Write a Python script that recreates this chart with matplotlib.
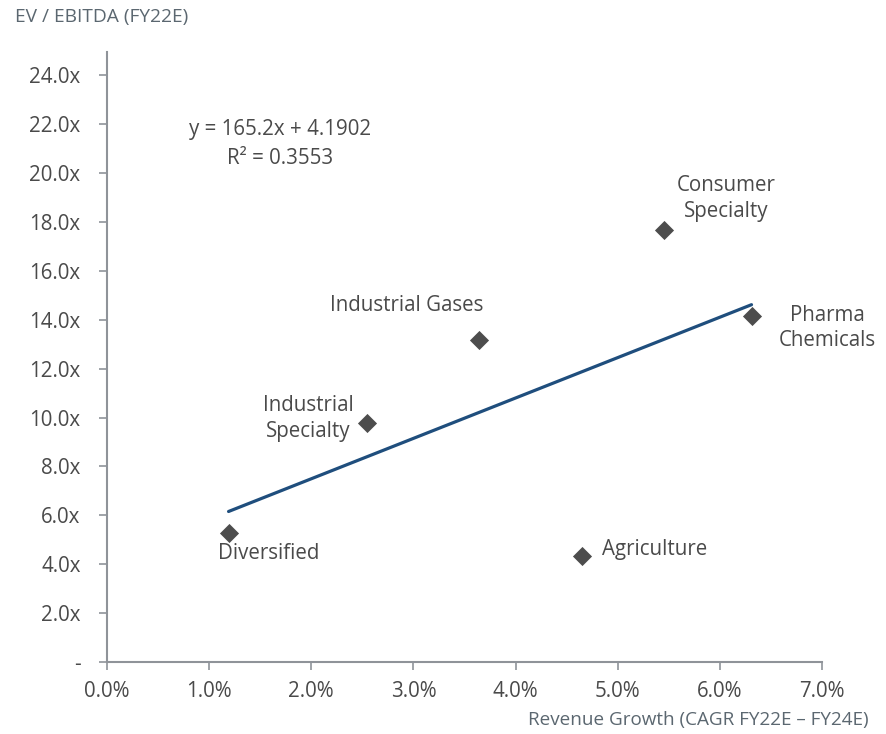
import matplotlib.pyplot as plt
from matplotlib.ticker import FuncFormatter

plt.rcParams['font.family'] = ['Open Sans', 'DejaVu Sans']

# data
segments = ['Diversified', 'Industrial\nSpecialty', 'Industrial Gases',
            'Agriculture', 'Consumer\nSpecialty', 'Pharma\nChemicals']
rev_growth = [0.0119, 0.0255, 0.0364, 0.0465, 0.0545, 0.0631]
ev_ebitda = [5.28, 9.77, 13.17, 4.34, 17.65, 14.15]

slope = 165.2
intercept = 4.1902
r_squared = 0.3553

# label offsets in pixels (dx, dy, ha)
label_pos = [(40, -21, 'center'), (-59, 5, 'center'), (-72, 35, 'center'),
             (20, 6, 'left'), (63, 32, 'center'), (76, -12, 'center')]

text_col = '#4a4a4a'
title_col = '#5b6770'
axis_col = '#8f9399'

fig = plt.figure(figsize=(8.87, 7.34), dpi=100)
ax = fig.add_axes([107 / 887, 1 - 662 / 734, 715 / 887, 610 / 734])

ax.scatter(rev_growth, ev_ebitda, marker='D', s=95, color='#4d4d4d', zorder=3, linewidths=0)

# linear trendline across the data range
x0, x1 = min(rev_growth), max(rev_growth)
ax.plot([x0, x1], [slope * x0 + intercept, slope * x1 + intercept],
        color='#1f4e7d', lw=2.3, solid_capstyle='round', zorder=2)

for name, x, y, (dx, dy, ha) in zip(segments, rev_growth, ev_ebitda, label_pos):
    ax.annotate(name, (x, y), xytext=(dx, dy), textcoords='offset pixels',
                ha=ha, va='center', fontsize=14.8, color=text_col, linespacing=1.3)

fig.text(280 / 887, 1 - 129 / 734, f'y = {slope}x + {intercept}', ha='center', va='center',
         fontsize=14.8, color=text_col)
fig.text(280 / 887, 1 - 158 / 734, f'R² = {r_squared}', ha='center', va='center',
         fontsize=14.8, color=text_col)

ax.set_xlim(0, 0.07)
ax.set_ylim(0, 24.95)
ax.set_xticks([i / 100 for i in range(8)])
ax.set_yticks(range(0, 25, 2))
ax.xaxis.set_major_formatter(FuncFormatter(lambda v, p: f'{v * 100:.1f}%'))
ax.yaxis.set_major_formatter(FuncFormatter(lambda v, p: '-' if v == 0 else f'{v:.1f}x'))

for s in ['top', 'right']:
    ax.spines[s].set_visible(False)
for s in ['left', 'bottom']:
    ax.spines[s].set_color(axis_col)
    ax.spines[s].set_linewidth(1.5)
ax.tick_params(colors=axis_col, width=1.2, length=6, labelsize=14.8, labelcolor=text_col)
ax.tick_params(axis='x', pad=8)
ax.tick_params(axis='y', pad=13)

fig.text(15 / 887, 1 - 17 / 734, 'EV / EBITDA (FY22E)', ha='left', va='center',
         fontsize=13.8, color=title_col)
fig.text(869 / 887, 1 - 720 / 734, 'Revenue Growth (CAGR FY22E – FY24E)', ha='right', va='center',
         fontsize=13.6, color=title_col)

fig.savefig('out.png', dpi=100)
